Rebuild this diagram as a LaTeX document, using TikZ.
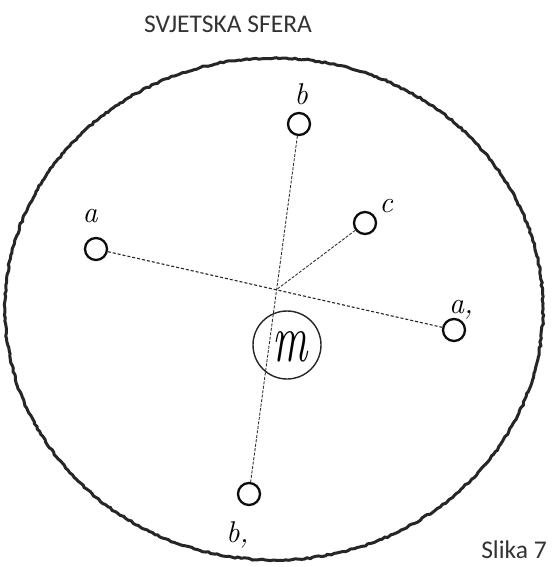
\documentclass[tikz,border=0pt]{standalone}
\usepackage{fontspec}
\usepackage{graphicx}
\newfontfamily\titlefont{Carlito}
\usetikzlibrary{decorations.pathmorphing}
\begin{document}
\begin{tikzpicture}[x=1pt,y=-1pt,
  sphere/.style={draw=black!85,line width=3pt,decorate,decoration={random steps,segment length=3pt,amplitude=0.8pt}},
  star/.style={circle,draw=black!95,line width=2.3pt,minimum size=22pt,inner sep=0pt},
  earth/.style={circle,draw=black!85,line width=1.4pt,minimum size=68pt,inner sep=0pt},
  ray/.style={draw=black!85,line width=1.1pt,densely dashed},
  thinray/.style={draw=black!80,line width=0.9pt,dash pattern=on 3pt off 1.5pt},
  hand/.style={font=\fontsize{30}{30}\selectfont\itshape,inner sep=0pt},
  caption/.style={font=\titlefont\fontsize{25.5}{28}\selectfont,text=black!80}]
\useasboundingbox (0,0) rectangle (551,567);
\fill[white] (0,0) rectangle (551,567);
\draw[sphere] (274,309) ellipse [x radius=269, y radius=251];
\node[caption] (title) at (228,24) {SVJETSKA SFERA};
\node[caption] (slika) at (514,550) {Slika 7};
\coordinate (x) at (276,290);
\node[star] (b) at (299,124) {};
\node[star] (c) at (365,223) {};
\node[star] (a) at (96,249) {};
\node[star] (a1) at (454,330) {};
\node[star] (b1) at (249,494) {};
\node[earth] (m) at (287,345) {};
\node[font=\fontsize{40}{40}\selectfont\itshape] (ml) at (290,347) {\scalebox{1.1}[1.7]{m}};
\node[hand] (lb) at (301,94) {b};
\node[hand] (lc) at (386,206) {c};
\node[hand] (la) at (90,216) {a};
\node[hand,anchor=base west] (la1) at (449,313) {a,};
\node[hand,anchor=base west] (lb1) at (226,542) {b,};
\draw[ray] (a) -- (a1);
\draw[thinray] (b) -- (b1);
\draw[thinray] (c) -- (x);
\end{tikzpicture}
\end{document}
